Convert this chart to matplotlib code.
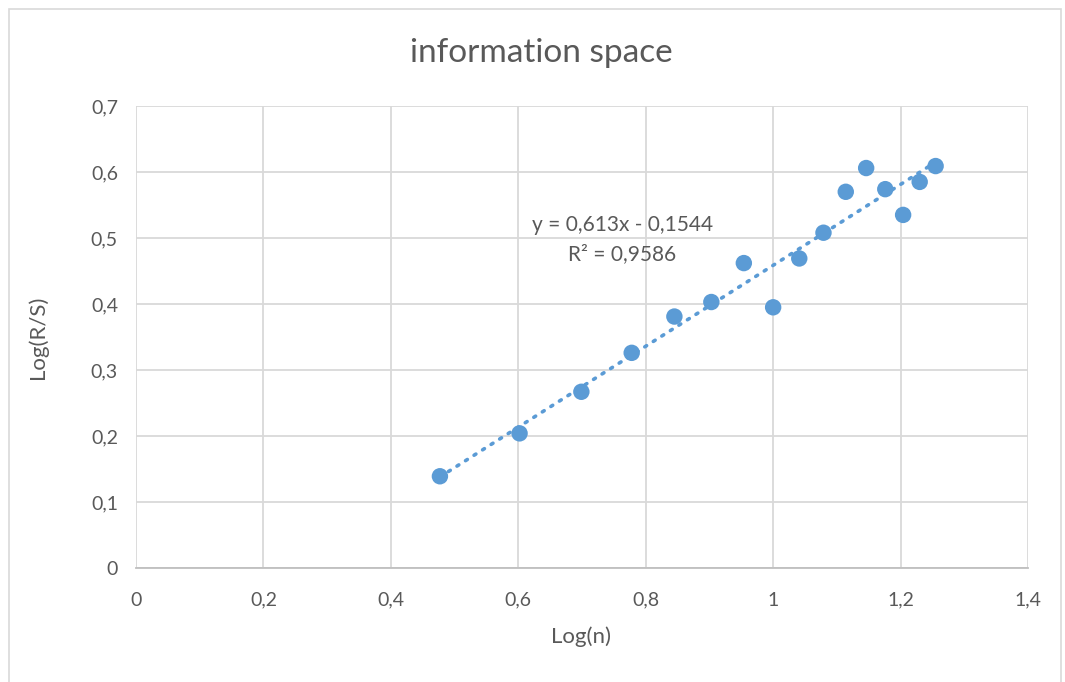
import numpy as np
import matplotlib
matplotlib.use("Agg")
import matplotlib.pyplot as plt
from matplotlib.patches import Rectangle

# Data: log10 of window size n against log10 of the rescaled range R/S
log_n = [0.477, 0.602, 0.699, 0.778, 0.845, 0.903, 0.954, 1.000,
         1.041, 1.079, 1.114, 1.146, 1.176, 1.204, 1.230, 1.255]
log_rs = [0.139, 0.204, 0.267, 0.326, 0.381, 0.403, 0.462, 0.395,
          0.469, 0.508, 0.570, 0.606, 0.574, 0.535, 0.585, 0.609]

# Linear trend reported on the chart
slope = 0.613
intercept = -0.1544
r_squared = 0.9586

x_ticks = [0, 0.2, 0.4, 0.6, 0.8, 1.0, 1.2, 1.4]
y_ticks = [0, 0.1, 0.2, 0.3, 0.4, 0.5, 0.6, 0.7]

title = "information space"
x_label = "Log(n)"
y_label = "Log(R/S)"

blue = "#5b9bd5"
text_gray = "#595959"
grid_gray = "#d9d9d9"

plt.rcParams["font.family"] = ["Lato", "DejaVu Sans"]

W, H = 1065, 682
fig = plt.figure(figsize=(W / 100, H / 100), dpi=100)
ax = fig.add_axes([136 / W, 1 - 568 / H, (1028 - 136) / W, (568 - 106) / H])

# Chart-area frame
fig.patches.append(Rectangle((8.5 / W, -0.1), (1061 - 8.5) / W, 1.1 - 8.5 / H,
                             transform=fig.transFigure, fill=False,
                             edgecolor="#d9d9d9", linewidth=1.2))

def fmt(v):
    return f"{v:g}".replace(".", ",")

ax.set_xlim(x_ticks[0], x_ticks[-1])
ax.set_ylim(y_ticks[0], y_ticks[-1])
ax.set_xticks(x_ticks)
ax.set_yticks(y_ticks)
ax.set_xticklabels([fmt(v) for v in x_ticks])
ax.set_yticklabels([fmt(v) for v in y_ticks])
ax.tick_params(length=0, labelsize=14, colors=text_gray, pad=13)
ax.tick_params(axis="x", pad=17)

ax.grid(True, color=grid_gray, linewidth=1.3)
ax.set_axisbelow(True)
for side in ("top", "right", "left"):
    ax.spines[side].set_visible(False)
ax.spines["bottom"].set_color("#bfbfbf")
ax.spines["bottom"].set_linewidth(1.3)

# Trendline over the data range
xs = np.array([min(log_n), max(log_n)])
ax.plot(xs, slope * xs + intercept, linestyle=(0, (0.6, 2.2)), color=blue,
        linewidth=2.6, dash_capstyle="round", zorder=2)

ax.scatter(log_n, log_rs, s=140, color=blue, edgecolors="none", zorder=3)

ax.text(0.763, 0.520, f"y = {fmt(slope)}x - {fmt(abs(intercept))}",
        ha="center", va="center", fontsize=15, color=text_gray)
ax.text(0.763, 0.476, f"R² = {fmt(r_squared)}",
        ha="center", va="center", fontsize=15, color=text_gray)

fig.text(541 / W, 1 - 53 / H, title, ha="center", va="center",
         fontsize=24, color=text_gray)
fig.text(581 / W, 1 - 637 / H, x_label, ha="center", va="center",
         fontsize=16, color=text_gray)
fig.text(38 / W, 1 - 337 / H, y_label, ha="center", va="center",
         rotation=90, fontsize=16, color=text_gray)

fig.savefig("out.png", dpi=100)
